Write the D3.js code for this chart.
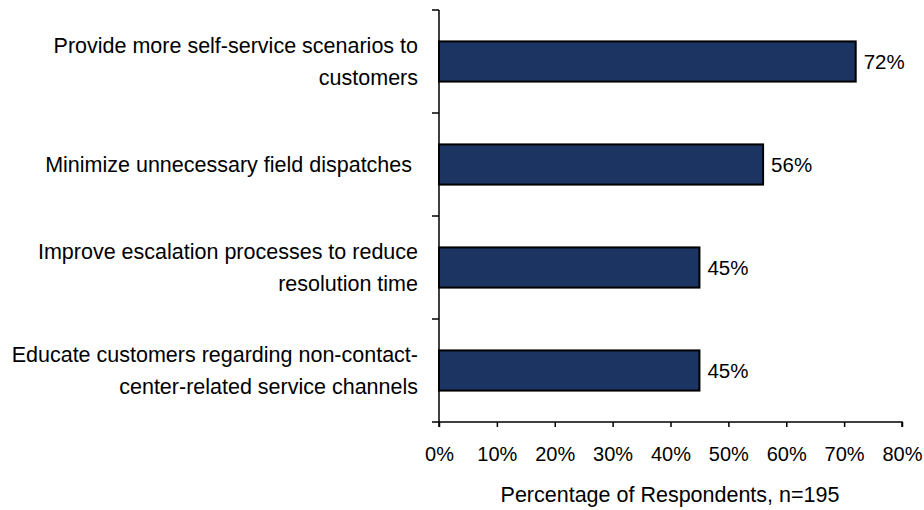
<!DOCTYPE html>
<html><head><meta charset="utf-8">
<script src="https://cdn.jsdelivr.net/npm/d3@7"></script>
<style>body{margin:0;background:#fff}svg{display:block}text{font-family:"Liberation Sans",Arial,sans-serif;fill:#000}</style>
</head><body>
<svg id="c" width="924" height="510"></svg>
<script>
const categories = [
  ["Provide more self-service scenarios to", "customers"],
  ["Minimize unnecessary field dispatches "],
  ["Improve escalation processes to reduce", "resolution time"],
  ["Educate customers regarding non-contact-", "center-related service channels"]
];
const values = [72, 56, 45, 45];
const xTicks = [0, 10, 20, 30, 40, 50, 60, 70, 80];
const xTitle = "Percentage of Respondents, n=195";

const svg = d3.select("#c");
const mLeft = 439, mRight = 902, mTop = 10, mBottom = 422;
const x = d3.scaleLinear().domain([0, 80]).range([mLeft, mRight]);
const y = d3.scaleBand().domain(d3.range(categories.length)).range([mTop, mBottom]).paddingInner(0.61).paddingOuter(0.305);

// bars
svg.selectAll("rect.bar").data(values).join("rect")
  .attr("x", x(0)).attr("y", (d,i) => y(i))
  .attr("width", d => x(d) - x(0)).attr("height", y.bandwidth())
  .attr("fill", "#1b3461").attr("stroke", "#000").attr("stroke-width", 2);

// value labels
svg.selectAll("text.val").data(values).join("text")
  .attr("x", d => x(d) + 8).attr("y", (d,i) => y(i) + y.bandwidth()/2)
  .attr("dy", "0.36em").attr("font-size", 20.5).text(d => d + "%");

// y axis line and boundary ticks
const boundaries = d3.range(categories.length + 1).map(i => mTop + i * (mBottom - mTop) / categories.length);
svg.append("line").attr("x1", mLeft).attr("x2", mLeft).attr("y1", mTop).attr("y2", mBottom).attr("stroke", "#000").attr("stroke-width", 1.5);
svg.selectAll("line.yt").data(boundaries).join("line")
  .attr("x1", mLeft - 7).attr("x2", mLeft).attr("y1", d => d).attr("y2", d => d).attr("stroke", "#000").attr("stroke-width", 1.5);

// x axis
const xAxis = d3.axisBottom(x).tickValues(xTicks).tickFormat(d => d + "%").tickSize(5).tickPadding(20);
const gx = svg.append("g").attr("transform", `translate(0,${mBottom})`).call(xAxis);
gx.select(".domain").attr("stroke", "#000").attr("stroke-width", 1.5).attr("d", `M${mLeft},5V0H${mRight}V5`);
gx.selectAll(".tick line").attr("stroke", "#000").attr("stroke-width", 1.5);
gx.selectAll(".tick text").attr("font-size", 20).attr("font-family", "Liberation Sans, Arial, sans-serif").attr("fill", "#000");

// category labels
const lh = 32;
categories.forEach((lines, i) => {
  const cy = y(i) + y.bandwidth()/2;
  const t = svg.append("text").attr("text-anchor", "end").attr("font-size", 21.5)
    .attr("y", cy - (lines.length - 1) * lh / 2);
  lines.forEach((ln, j) => {
    t.append("tspan").attr("x", 418).attr("dy", j === 0 ? "0.36em" : lh).text(ln).style("white-space", "pre");
  });
});

// x title
svg.append("text").attr("x", 670).attr("y", 502).attr("text-anchor", "middle").attr("font-size", 21.5).text(xTitle);
</script>
</body></html>
